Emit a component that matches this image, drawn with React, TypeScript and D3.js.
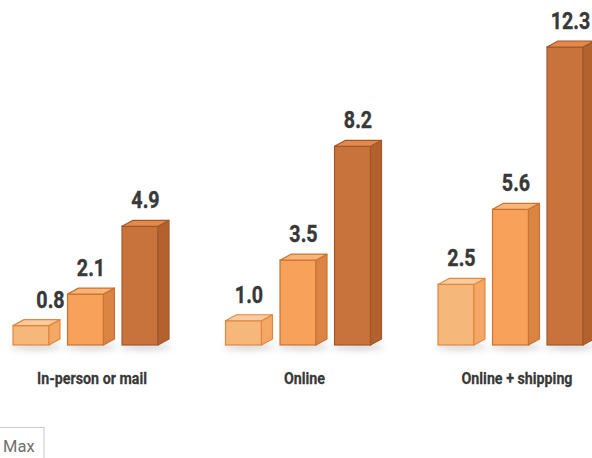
import React from "react";
import * as d3 from "d3";

const categories = ["In-person or mail", "Online", "Online + shipping"];
const seriesKeys = ["low", "mid", "max"];
const lowValues = [0.8, 1.0, 2.5];
const midValues = [2.1, 3.5, 5.6];
const maxValues = [4.9, 8.2, 12.3];
const legendLabels = ["Max"];

const W = 592;
const H = 458;
const BASE = 345;
const DX = 11;
const DY = 6;

const palette = [
  { front: "#F6B77B", top: "#F9CB9E", side: "#F5A866", stroke: "#E2873F" },
  { front: "#F8A15A", top: "#F9B478", side: "#DB8544", stroke: "#C97330" },
  { front: "#C8733C", top: "#E5894A", side: "#B3622E", stroke: "#A2572A" },
];

export default function App() {
  const series = [lowValues, midValues, maxValues];
  const y = d3.scaleLinear().domain([0, 12.3]).range([BASE, 47]);
  const xGroup = d3
    .scaleBand<string>()
    .domain(categories)
    .range([13, 13 + 3 * 212.5])
    .padding(0);
  const xBar = d3
    .scaleBand<string>()
    .domain(seriesKeys)
    .range([0, 145])
    .paddingInner(0.34)
    .paddingOuter(0);
  const bw = xBar.bandwidth();

  return (
    <svg
      width={W}
      height={H}
      style={{ position: "absolute", left: 0, top: 0, background: "#fff" }}
    >
      <defs>
        <filter id="shadowBlur" x="-50%" y="-200%" width="200%" height="500%">
          <feGaussianBlur stdDeviation="3" />
        </filter>
      </defs>
      {categories.map((cat, ci) => {
        const gx = xGroup(cat) as number;
        return (
          <g key={cat}>
            {seriesKeys.map((k, si) => {
              const v = series[si][ci];
              const x = gx + (xBar(k) as number);
              const yt = y(v);
              const c = palette[si];
              const top = `${x},${yt} ${x + DX},${yt - DY} ${x + bw + DX},${yt - DY} ${x + bw},${yt}`;
              const side = `${x + bw},${yt} ${x + bw + DX},${yt - DY} ${x + bw + DX},${BASE - DY} ${x + bw},${BASE}`;
              const labelShift = si === 0 && ci === 0 ? 14 : 0;
              const lx = x + (bw + DX) / 2 + labelShift;
              const ly = yt - DY - 12;
              return (
                <g key={k}>
                  <ellipse
                    cx={x + (bw + DX) / 2}
                    cy={BASE + 2}
                    rx={(bw + DX) / 2 + 2}
                    ry={3}
                    fill="#9a9a9a"
                    opacity={0.45}
                    filter="url(#shadowBlur)"
                  />
                  <rect
                    x={x}
                    y={yt}
                    width={bw}
                    height={BASE - yt}
                    fill={c.front}
                    stroke={c.stroke}
                    strokeWidth={1.2}
                  />
                  <polygon points={side} fill={c.side} stroke={c.stroke} strokeWidth={1.2} strokeLinejoin="round" />
                  <polygon points={top} fill={c.top} stroke={c.stroke} strokeWidth={1.2} strokeLinejoin="round" />
                  <g transform={`translate(${lx},${ly}) scale(0.82,1)`}>
                    <text
                      textAnchor="middle"
                      fontFamily="Roboto, sans-serif"
                      fontWeight={700}
                      fontSize={24}
                      fill="#383838"
                      stroke="#383838"
                      strokeWidth={0.4}
                    >
                      {d3.format(".1f")(v)}
                    </text>
                  </g>
                </g>
              );
            })}
            <g transform={`translate(${gx + 79},${384}) scale(0.84,1)`}>
              <text
                textAnchor="middle"
                fontFamily="Roboto, sans-serif"
                fontWeight={700}
                fontSize={17}
                fill="#383838"
                stroke="#383838"
                strokeWidth={0.25}
              >
                {cat}
              </text>
            </g>
          </g>
        );
      })}
      <rect x={-1} y={427.5} width={45} height={40} fill="#fff" stroke="#c9c9c9" strokeWidth={1} />
      <text x={3} y={452} fontFamily="Roboto, sans-serif" fontSize={16.5} fill="#707070">
        {legendLabels[0]}
      </text>
    </svg>
  );
}
